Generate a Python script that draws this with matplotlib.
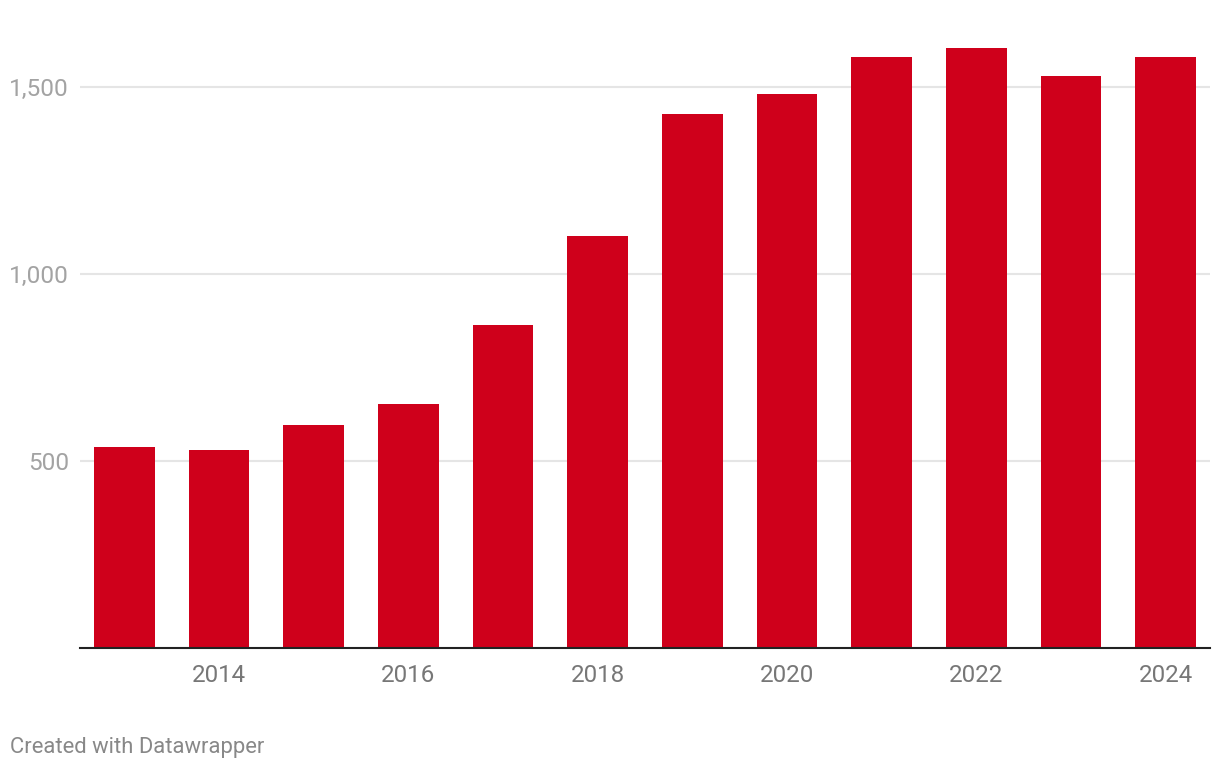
import matplotlib.pyplot as plt

plt.rcParams['font.family'] = ['Roboto', 'DejaVu Sans']

years = [2013, 2014, 2015, 2016, 2017, 2018, 2019, 2020, 2021, 2022, 2023, 2024]
values = [537, 529, 596, 652, 864, 1102, 1428, 1481, 1580, 1604, 1529, 1580]
y_ticks = [500, 1000, 1500]
x_ticks = [2014, 2016, 2018, 2020, 2022, 2024]

bar_color = '#cf001b'

fig = plt.figure(figsize=(12.2, 7.7), dpi=100)
# axes placed in pixel terms: x 80..1210, zero line at y=648
ax = fig.add_axes([80 / 1220, 1 - 648 / 770, 1130 / 1220, (648 - 12) / 770])

ax.bar(years, values, width=0.64, color=bar_color, zorder=3)

ax.set_xlim(2012.53, 2024.47)
ax.set_ylim(0, 1700)

ax.set_yticks(y_ticks)
ax.set_yticklabels(['{:,}'.format(v) for v in y_ticks])
ax.set_xticks(x_ticks)
ax.set_xticklabels([str(y) for y in x_ticks])

ax.grid(axis='y', color='#e5e5e5', linewidth=1.5, zorder=0)
ax.tick_params(axis='y', length=0, pad=8, labelsize=17.6, labelcolor='#a3a3a3')
ax.tick_params(axis='x', length=0, pad=11.5, labelsize=17.4, labelcolor='#777777')

for side in ['top', 'right', 'left']:
    ax.spines[side].set_visible(False)
ax.spines['bottom'].set_color('#222222')
ax.spines['bottom'].set_linewidth(1.5)
ax.spines['bottom'].set_zorder(4)

fig.text(10 / 1220, 1 - 748 / 770, 'Created with Datawrapper', fontsize=15.8,
         color='#888888', ha='left', va='center')

plt.savefig('out.png', dpi=100)
plt.close(fig)
